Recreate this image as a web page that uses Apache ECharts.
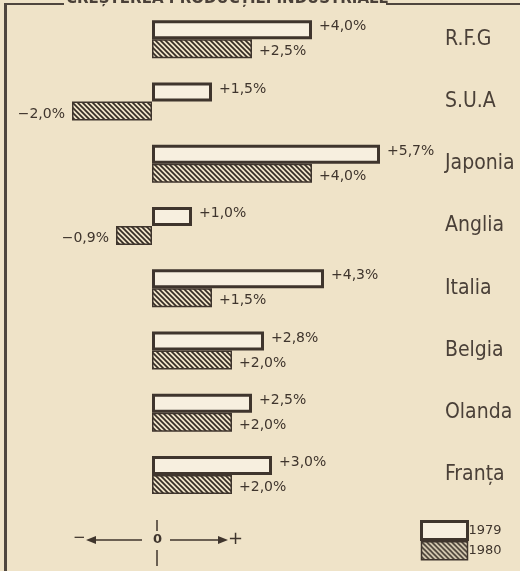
<!DOCTYPE html>
<html>
<head>
<meta charset="utf-8">
<script src="https://cdn.jsdelivr.net/npm/echarts@6/dist/echarts.min.js"></script>
<style>
  html, body { margin: 0; padding: 0; background: #efe3c8; }
  #chart { width: 520px; height: 571px; }
</style>
</head>
<body>
<div id="chart"></div>
<script>
const countries = ["R.F.G", "S.U.A", "Japonia", "Anglia", "Italia", "Belgia", "Olanda", "Franța"];
const growth1979 = [4.0, 1.5, 5.7, 1.0, 4.3, 2.8, 2.5, 3.0];
const growth1980 = [2.5, -2.0, 4.0, -0.9, 1.5, 2.0, 2.0, 2.0];
const seriesNames = ["1979", "1980"];

const ink = "#3f352d";

// diagonal hatching for the 1980 bars
function hatch() {
    const s = 5;
    const c = document.createElement("canvas");
    c.width = s;
    c.height = s;
    const ctx = c.getContext("2d");
    ctx.fillStyle = "#efe3c8";
    ctx.fillRect(0, 0, s, s);
    ctx.strokeStyle = "#352c25";
    ctx.lineWidth = 1.7;
    ctx.beginPath();
    ctx.moveTo(-1, -1);
    ctx.lineTo(s + 1, s + 1);
    ctx.moveTo(-1, s - 1);
    ctx.lineTo(1, s + 1);
    ctx.moveTo(s - 1, -1);
    ctx.lineTo(s + 1, 1);
    ctx.stroke();
    return c;
}

const fmt = (v) => (v < 0 ? "\u2212" : "+") + Math.abs(v).toFixed(1).replace(".", ",") + "%";

function withLabels(values, dy) {
    return values.map((v) => ({
        value: v,
        label: v < 0
            ? { position: "left", offset: [-2, dy] }
            : { position: "right", offset: [2, dy] },
    }));
}

const labelStyle = {
    show: true,
    formatter: (p) => fmt(p.value),
    fontFamily: "DejaVu Sans",
    fontSize: 14,
    color: ink,
};

const hatchFill = { image: hatch(), repeat: "repeat" };

const chart = echarts.init(document.getElementById("chart"));
chart.setOption({
    backgroundColor: "#efe3c8",
    animation: false,
    grid: { left: 12, width: 400, top: 8, height: 498 },
    xAxis: {
        type: "value",
        min: -3.5,
        max: 6.5,
        show: false,
    },
    yAxis: {
        type: "category",
        data: countries,
        inverse: true,
        position: "right",
        axisLine: { show: false },
        axisTick: { show: false },
        splitLine: { show: false },
        axisLabel: {
            margin: 33,
            align: "left",
            fontFamily: "DejaVu Sans Condensed, sans-serif",
            fontSize: 21,
            color: "#4a4038",
        },
    },
    legend: {
        orient: "vertical",
        left: 415,
        top: 515,
        itemGap: 0,
        itemWidth: 46,
        itemHeight: 18,
        icon: "rect",
        textStyle: { fontFamily: "DejaVu Sans", fontSize: 13, color: ink, padding: [0, 0, 0, -4] },
        data: [
            { name: seriesNames[0], itemStyle: { color: "#f7efdf", borderColor: ink, borderWidth: 3 } },
            { name: seriesNames[1], itemStyle: { color: hatchFill, borderColor: ink, borderWidth: 1.5 } },
        ],
    },
    series: [
        {
            name: seriesNames[0],
            type: "bar",
            barWidth: 19,
            barGap: "0%",
            itemStyle: { color: "#f7efdf", borderColor: ink, borderWidth: 3 },
            label: labelStyle,
            data: withLabels(growth1979, -3),
        },
        {
            name: seriesNames[1],
            type: "bar",
            barWidth: 19,
            itemStyle: { color: hatchFill, borderColor: ink, borderWidth: 1.5 },
            label: labelStyle,
            data: withLabels(growth1980, 3),
        },
    ],
    graphic: [
        // frame and clipped title
        { type: "rect", shape: { x: 4, y: 4, width: 3, height: 580 }, style: { fill: "#4f463e" } },
        { type: "rect", shape: { x: 4, y: 3, width: 60, height: 2 }, style: { fill: "#4f463e" } },
        { type: "rect", shape: { x: 386, y: 3, width: 134, height: 2 }, style: { fill: "#4f463e" } },
        {
            type: "text", left: 66, top: -8,
            style: { text: "CREȘTEREA PRODUCȚIEI INDUSTRIALE", fontFamily: "DejaVu Sans", fontWeight: "bold", fontSize: 15, fill: "#4a4038" },
        },
        // direction key
        { type: "text", left: 73, top: 531, style: { text: "\u2212", fontFamily: "DejaVu Sans", fontSize: 15, fill: ink } },
        { type: "line", shape: { x1: 93, y1: 540, x2: 142, y2: 540 }, style: { stroke: ink, lineWidth: 1.5 } },
        { type: "polygon", shape: { points: [[86, 540], [96, 536], [96, 544]] }, style: { fill: ink } },
        { type: "text", left: 153, top: 533, style: { text: "0", fontFamily: "DejaVu Sans", fontWeight: "bold", fontSize: 13, fill: ink } },
        { type: "line", shape: { x1: 170, y1: 540, x2: 220, y2: 540 }, style: { stroke: ink, lineWidth: 1.5 } },
        { type: "polygon", shape: { points: [[228, 540], [218, 536], [218, 544]] }, style: { fill: ink } },
        { type: "text", left: 228, top: 530, style: { text: "+", fontFamily: "DejaVu Sans", fontSize: 18, fill: ink } },
        { type: "line", shape: { x1: 157, y1: 520, x2: 157, y2: 531 }, style: { stroke: ink, lineWidth: 1.5 } },
        { type: "line", shape: { x1: 157, y1: 550, x2: 157, y2: 566 }, style: { stroke: ink, lineWidth: 1.5 } },
    ],
});
</script>
</body>
</html>
